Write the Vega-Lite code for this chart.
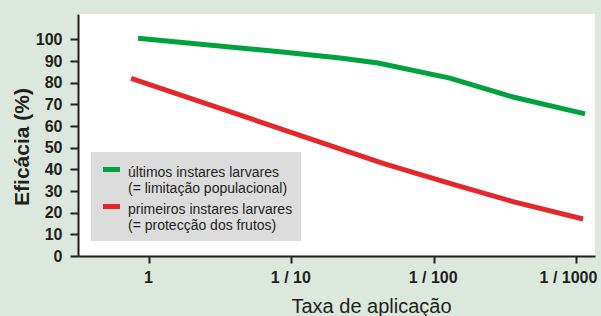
{
  "$schema": "https://vega.github.io/schema/vega-lite/v6.json",
  "width": 517,
  "height": 242,
  "autosize": {"type": "none"},
  "padding": {"left": 78, "top": 14, "right": 6, "bottom": 60},
  "background": "#dce8de",
  "config": {
    "view": {"fill": "#ffffff", "stroke": null},
    "font": "Liberation Sans"
  },
  "data": {
    "values": [
      {"series": "últimos instares larvares (= limitação populacional)", "d": 0.837, "eff": 100.5},
      {"series": "últimos instares larvares (= limitação populacional)", "d": 8.33, "eff": 94.3},
      {"series": "últimos instares larvares (= limitação populacional)", "d": 22.0, "eff": 91.4},
      {"series": "últimos instares larvares (= limitação populacional)", "d": 40.7, "eff": 89.1},
      {"series": "últimos instares larvares (= limitação populacional)", "d": 130, "eff": 82.1},
      {"series": "últimos instares larvares (= limitação populacional)", "d": 361, "eff": 73.4},
      {"series": "últimos instares larvares (= limitação populacional)", "d": 1159, "eff": 65.6},
      {"series": "primeiros instares larvares (= protecção dos frutos)", "d": 0.748, "eff": 82.0},
      {"series": "primeiros instares larvares (= protecção dos frutos)", "d": 44.1, "eff": 42.8},
      {"series": "primeiros instares larvares (= protecção dos frutos)", "d": 130, "eff": 33.5},
      {"series": "primeiros instares larvares (= protecção dos frutos)", "d": 361, "eff": 25.1},
      {"series": "primeiros instares larvares (= protecção dos frutos)", "d": 1122, "eff": 17.1}
    ]
  },
  "mark": {"type": "line", "strokeWidth": 5, "strokeCap": "butt", "interpolate": "linear"},
  "encoding": {
    "x": {
      "field": "d",
      "type": "quantitative",
      "scale": {"type": "log", "domain": [0.317, 1361], "nice": false, "zero": false},
      "axis": {
        "values": [1, 10, 100, 1000],
        "labelExpr": "datum.value == 1 ? '1' : '1 / ' + datum.value",
        "grid": false,
        "domainColor": "#231f20",
        "domainWidth": 2,
        "tickColor": "#231f20",
        "tickWidth": 2,
        "tickSize": 7,
        "labelPadding": 6.7,
        "labelFont": "Liberation Sans",
        "labelFontSize": 16,
        "labelFontWeight": "bold",
        "labelColor": "#231f20",
        "labelFlush": false,
        "labelOverlap": false,
        "labelOffset": {"condition": {"test": "datum.value == 1000", "value": -8}, "value": -1},
        "title": "Taxa de aplicação",
        "titleFont": "Liberation Sans",
        "titleFontSize": 20,
        "titleFontWeight": "normal",
        "titleColor": "#231f20",
        "titleX": 293,
        "titleY": 56.3,
        "titleAlign": "center",
        "titleBaseline": "alphabetic"
      }
    },
    "y": {
      "field": "eff",
      "type": "quantitative",
      "scale": {"domain": [0, 111.7], "nice": false},
      "axis": {
        "values": [0, 10, 20, 30, 40, 50, 60, 70, 80, 90, 100],
        "grid": false,
        "domainColor": "#231f20",
        "domainWidth": 2,
        "tickColor": "#231f20",
        "tickWidth": 2,
        "tickSize": 8,
        "labelPadding": 8,
        "labelFont": "Liberation Sans",
        "labelFontSize": 16,
        "labelFontWeight": "bold",
        "labelColor": "#231f20",
        "labelOverlap": false,
        "labelFlush": false,
        "title": "Eficácia (%)",
        "titleFont": "Liberation Sans",
        "titleFontSize": 21,
        "titleFontWeight": "bold",
        "titleColor": "#231f20",
        "titleAngle": -90,
        "titleX": -49.7,
        "titleY": 132.5,
        "titleAlign": "center",
        "titleBaseline": "alphabetic"
      }
    },
    "color": {
      "field": "series",
      "type": "nominal",
      "scale": {
        "domain": ["últimos instares larvares (= limitação populacional)", "primeiros instares larvares (= protecção dos frutos)"],
        "range": ["#00a13e", "#e2282b"]
      },
      "legend": {
        "title": null,
        "orient": "none",
        "legendX": 13,
        "legendY": 138,
        "fillColor": "#dcdcdc",
        "strokeColor": null,
        "padding": 8,
        "symbolType": "M-0.85,-0.3H0.85",
        "symbolSize": 400,
        "symbolStrokeWidth": 5,
        "labelOffset": 4,
        "rowPadding": 0,
        "labelFont": "Liberation Sans",
        "labelFontSize": 14,
        "labelColor": "#231f20",
        "labelLimit": 400,
        "labelExpr": "[split(datum.label, ' (')[0], '(' + split(datum.label, ' (')[1]]"
      }
    }
  }
}
